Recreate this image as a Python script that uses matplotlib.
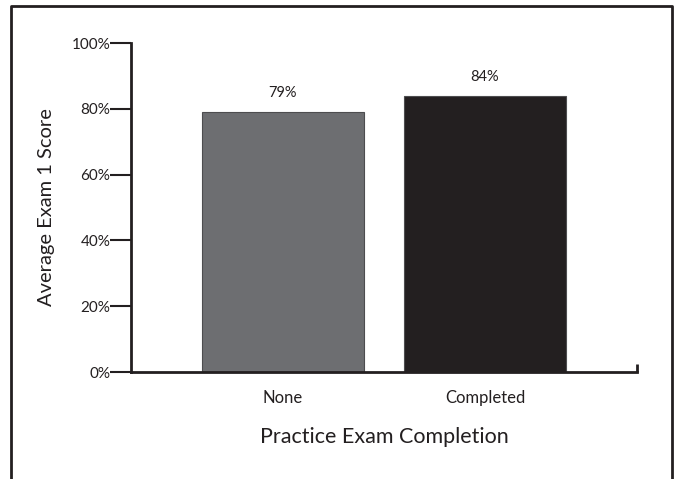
import matplotlib.pyplot as plt
from matplotlib.ticker import PercentFormatter

categories = ["None", "Completed"]
scores = [79, 84]
bar_colors = ["#6d6e71", "#231f20"]
y_ticks = [0, 20, 40, 60, 80, 100]

plt.rcParams["font.family"] = ["Lato", "DejaVu Sans"]
ink = "#231f20"

fig = plt.figure(figsize=(6.74, 4.79), dpi=100)
ax = fig.add_axes([131 / 674, 1 - 372 / 479, 506 / 674, 329 / 479])

x = list(range(len(categories)))
bars = ax.bar(x, scores, width=0.8, color=bar_colors, edgecolor="#4d4d4f", linewidth=0.8)
for rect, val in zip(bars, scores):
    ax.annotate(f"{val}%", (rect.get_x() + rect.get_width() / 2, val),
                xytext=(0, 13.5), textcoords="offset points",
                ha="center", va="center", fontsize=10.5, color=ink)

ax.set_xlim(-0.752, 1.752)
ax.set_ylim(0, 100)
ax.set_yticks(y_ticks)
ax.yaxis.set_major_formatter(PercentFormatter(decimals=0))
ax.set_xticks(x)
ax.set_xticklabels(categories)
# small upward mark closing the x axis
ax.set_xticks([1.752], minor=True)
ax.tick_params(axis="x", which="major", length=0, pad=13, labelsize=12, labelcolor=ink)
ax.tick_params(axis="x", which="minor", direction="in", length=6, width=2, color=ink)
ax.tick_params(axis="y", direction="out", length=15, width=1.5, color=ink,
               labelsize=11, labelcolor=ink, pad=0)

for side in ["top", "right"]:
    ax.spines[side].set_visible(False)
for side in ["left", "bottom"]:
    ax.spines[side].set_linewidth(2)
    ax.spines[side].set_color(ink)

ax.set_xlabel("Practice Exam Completion", fontsize=15.5, color=ink, labelpad=15)
ax.set_ylabel("Average Exam 1 Score", fontsize=14.5, color=ink, labelpad=12)

# outer frame, open at the bottom
fig.add_artist(plt.Line2D([11 / 674, 11 / 674, 672 / 674, 672 / 674],
                          [0, 1 - 6 / 479, 1 - 6 / 479, 0],
                          transform=fig.transFigure, color=ink, linewidth=2))

fig.savefig("out.png", dpi=100)
